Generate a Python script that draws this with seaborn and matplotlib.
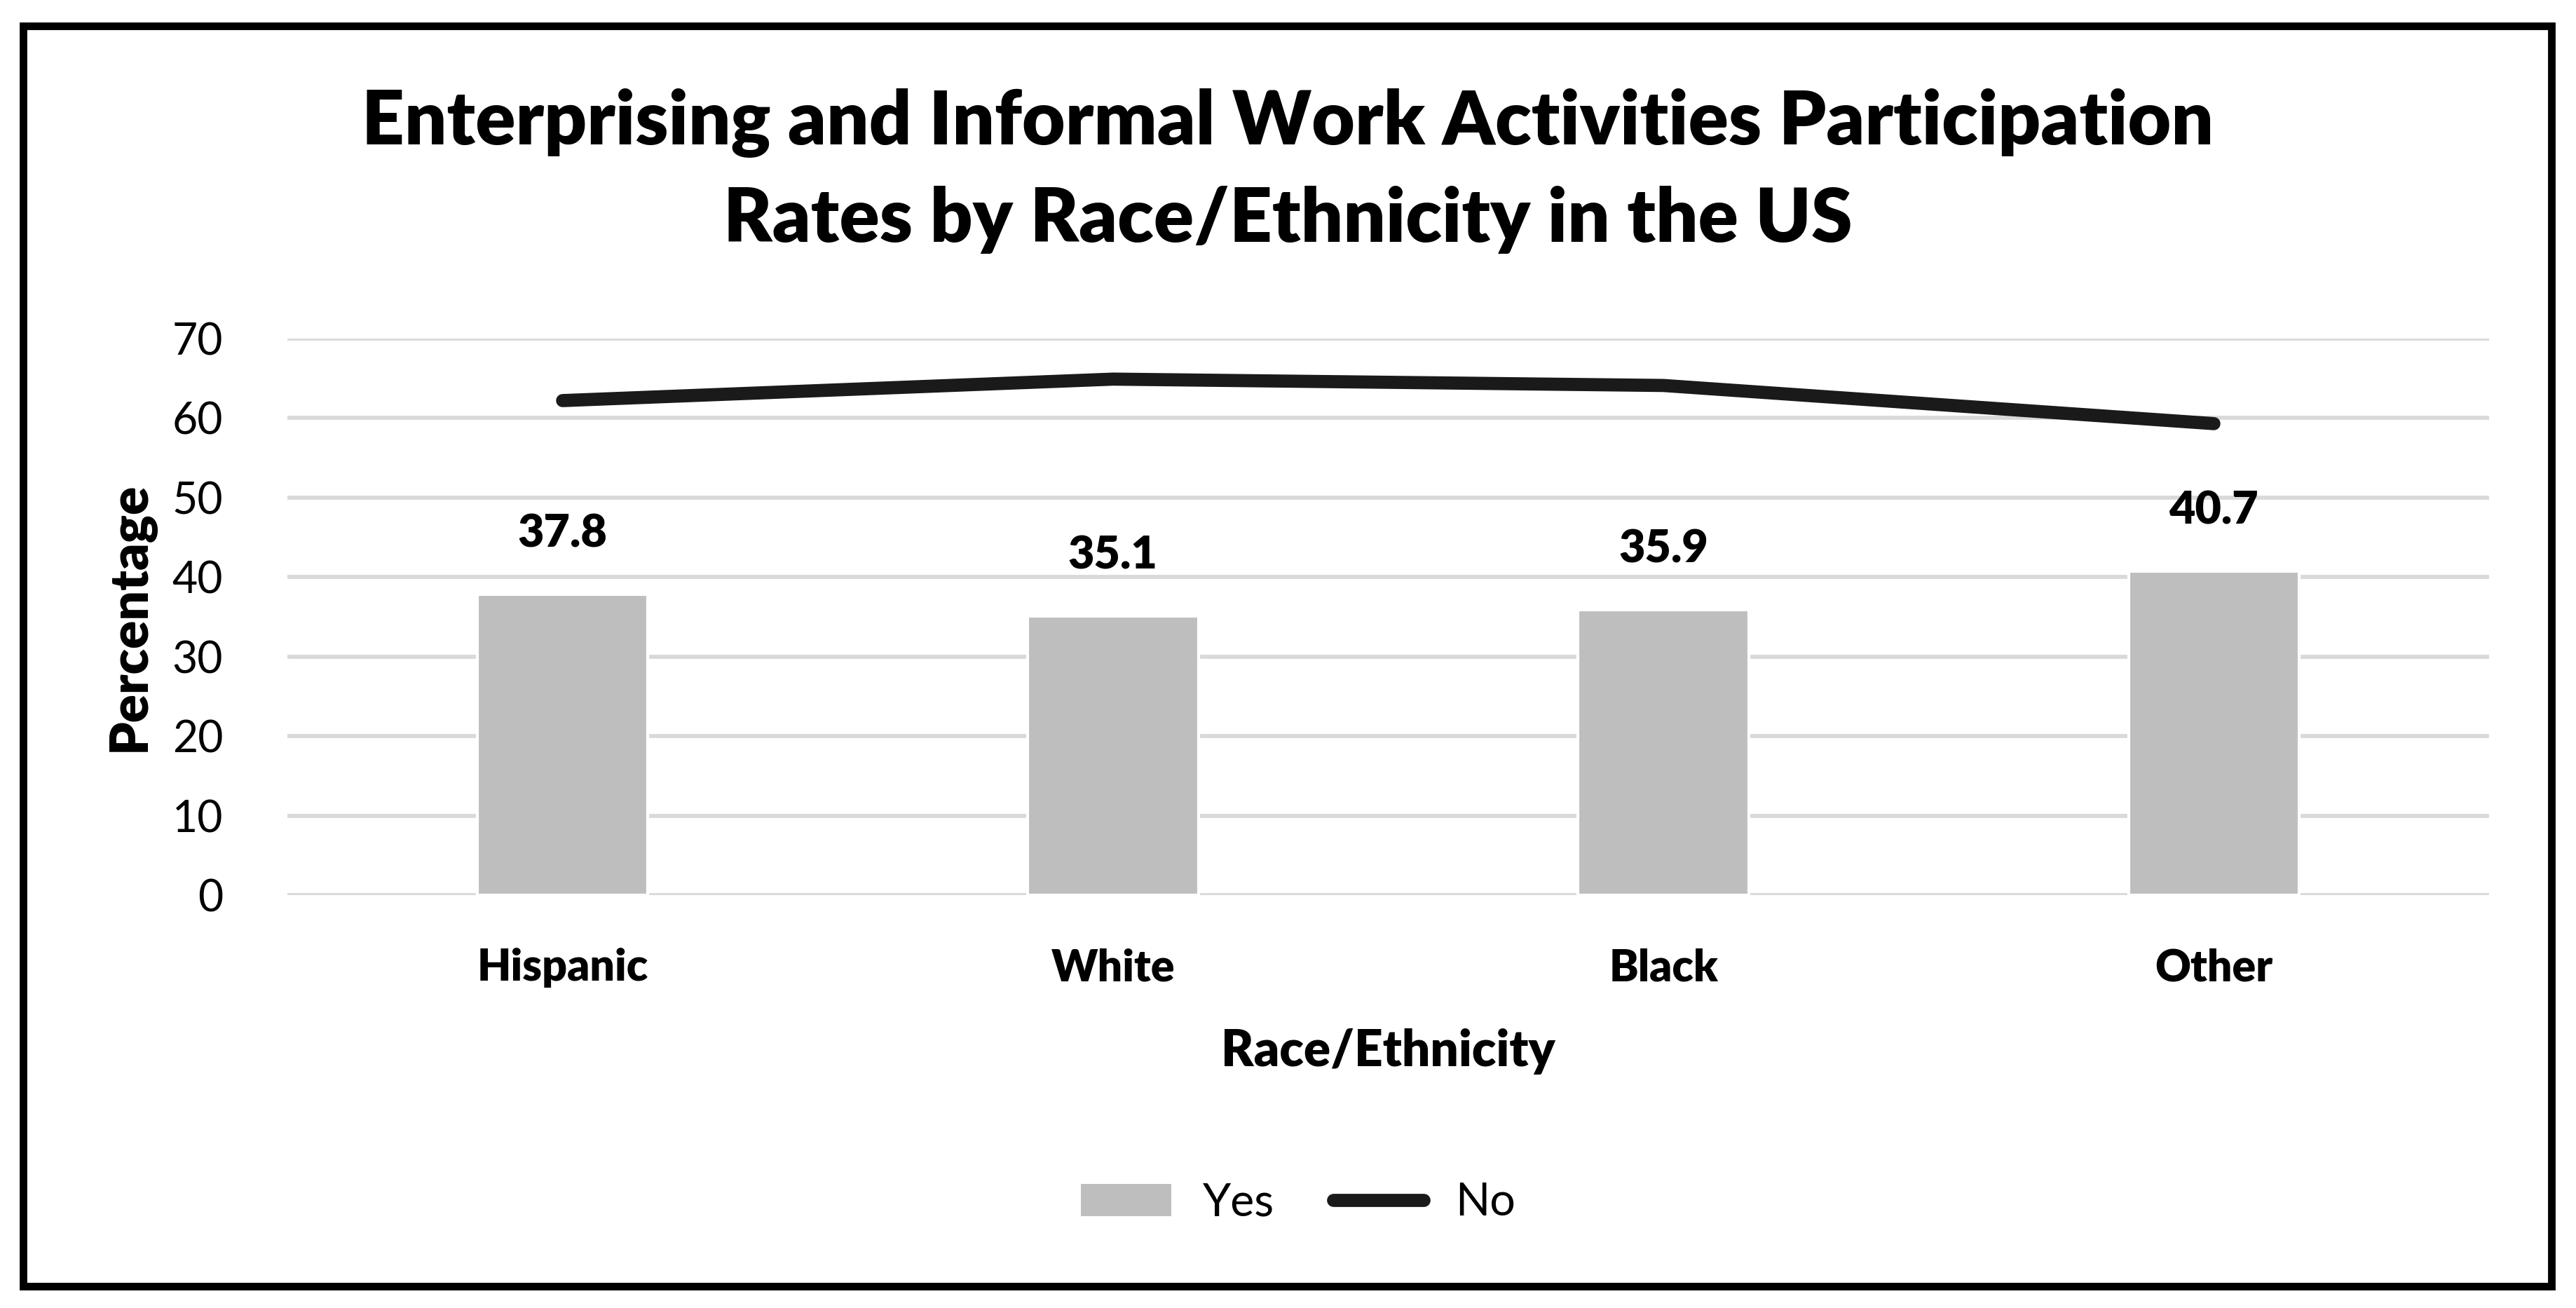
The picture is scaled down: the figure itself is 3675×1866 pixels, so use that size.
import matplotlib
matplotlib.use("Agg")
import matplotlib.pyplot as plt
from matplotlib.patches import Rectangle, Patch
from matplotlib.lines import Line2D
import seaborn as sns
import pandas as pd

# chart values
categories = ["Hispanic", "White", "Black", "Other"]
yes_rates = [37.8, 35.1, 35.9, 40.7]
no_rates = [62.2, 64.9, 64.1, 59.3]
y_ticks = [0, 10, 20, 30, 40, 50, 60, 70]

df = pd.DataFrame({"race": categories, "Yes": yes_rates, "No": no_rates})

sns.set_style("white")
plt.rcParams["font.family"] = ["Lato", "DejaVu Sans"]
plt.rcParams["text.color"] = "black"
plt.rcParams["axes.labelcolor"] = "black"
plt.rcParams["xtick.color"] = "black"
plt.rcParams["ytick.color"] = "black"

fig = plt.figure(figsize=(12.25, 6.22), dpi=300)
ax = fig.add_axes([410 / 3675, 1 - 1277 / 1866, (3551 - 410) / 3675, (1277 - 483) / 1866])

sns.barplot(data=df, x="race", y="Yes", color="#BEBEBE", width=0.31,
            saturation=1, ax=ax, zorder=2)
sns.lineplot(data=df, x="race", y="No", color="#1a1a1a", linewidth=4.5,
             sort=False, ax=ax, zorder=3)
for line in ax.lines:
    line.set_solid_capstyle("round")
    line.set_solid_joinstyle("round")

for i, v in enumerate(yes_rates):
    ax.text(i, v + 5, f"{v}", ha="center", va="bottom", fontsize=15.5,
            fontweight="heavy", color="black")

ax.set_xlim(-0.5, 3.5)
ax.set_ylim(0, 70)
ax.set_yticks(y_ticks)
ax.yaxis.grid(True, color="#D9D9D9", linewidth=1.4, zorder=0)
ax.set_axisbelow(True)
for s in ax.spines.values():
    s.set_visible(False)
ax.tick_params(axis="y", length=0, pad=22, labelsize=15)
ax.tick_params(axis="x", length=0, pad=18, labelsize=15)
for lab in ax.get_xticklabels():
    lab.set_fontweight("heavy")
ax.set_xlabel("Race/Ethnicity", fontsize=17, fontweight="heavy", labelpad=14)
ax.set_ylabel("Percentage", fontsize=18, fontweight="heavy", labelpad=6)

fig.text(0.5, 1 - 244 / 1866,
         "Enterprising and Informal Work Activities Participation\nRates by Race/Ethnicity in the US",
         ha="center", va="center", fontsize=25.5, fontweight="heavy", linespacing=1.5)

handles = [Patch(facecolor="#BEBEBE", edgecolor="none", label="Yes"),
           Line2D([0], [0], color="#1a1a1a", linewidth=4.5, solid_capstyle="round", label="No")]
fig.legend(handles=handles, loc="center", bbox_to_anchor=(1852 / 3675, 1 - 1716 / 1866),
           ncol=2, frameon=False, fontsize=15.5, handlelength=2.0, handletextpad=0.7,
           columnspacing=1.3)

fig.patches.append(Rectangle((33 / 3675, 1 - 1835 / 1866), (3640 - 33) / 3675, (1835 - 37) / 1866,
                             transform=fig.transFigure, fill=False, edgecolor="black",
                             linewidth=2.6, figure=fig))

fig.savefig("out.png", dpi=300, facecolor="white")
